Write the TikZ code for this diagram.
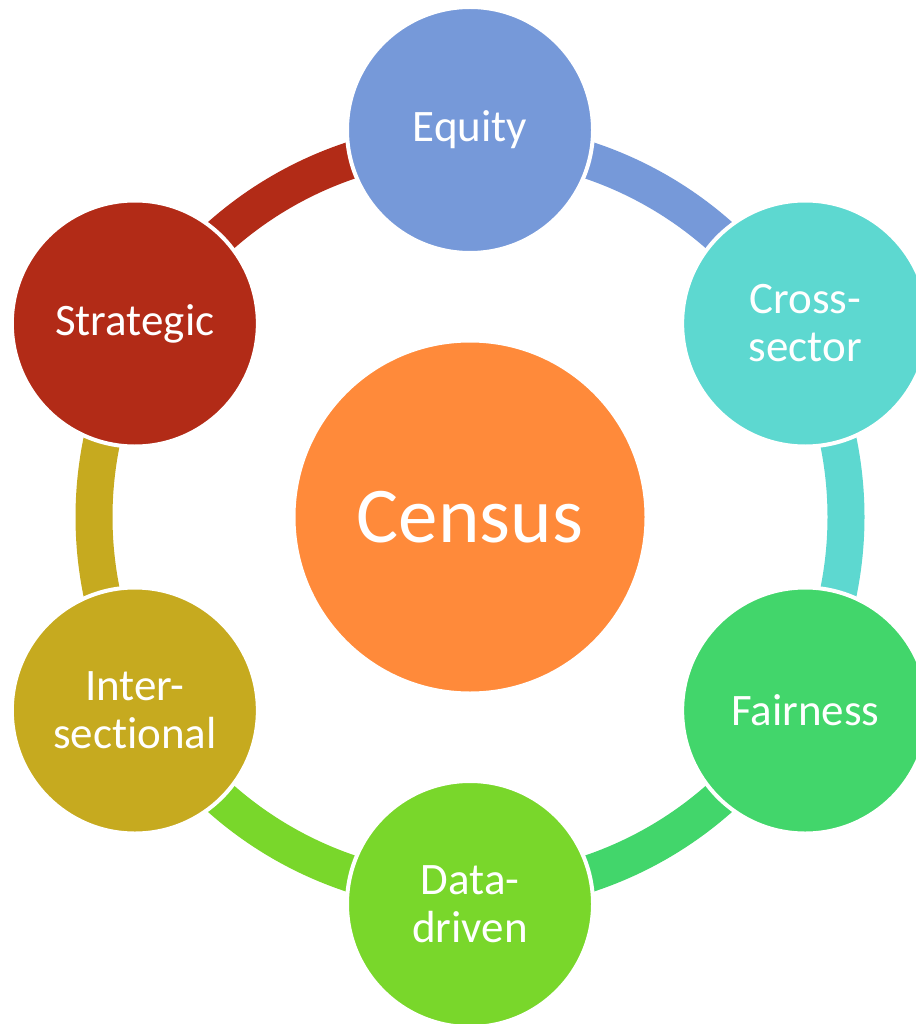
\documentclass[tikz,border=0pt]{standalone}
\usepackage{fontspec}
\setmainfont{Carlito}[Ligatures=NoCommon]
\usetikzlibrary{calc}
\definecolor{cEq}{HTML}{7699D9}
\definecolor{cCs}{HTML}{5DD8D0}
\definecolor{cFa}{HTML}{42D66B}
\definecolor{cDd}{HTML}{79D72B}
\definecolor{cIn}{HTML}{C6AA1F}
\definecolor{cSt}{HTML}{B22B17}
\definecolor{cCe}{HTML}{FF8A3A}
\tikzset{
  outer/.style={circle, fill=#1, draw=white, line width=4pt, minimum size=246pt, inner sep=0pt,
    text=white, align=center, font=\fontsize{45}{48}\selectfont},
  inner/.style={circle, fill=#1, draw=white, line width=4pt, minimum size=353pt, inner sep=0pt,
    text=white, align=center, font=\fontsize{79}{84}\selectfont},
  ring/.style={draw=#1, line width=37pt}
}
\begin{document}
\begin{tikzpicture}[x=1pt,y=1pt]
\useasboundingbox (0,0) rectangle (915,-1024);
\coordinate (C) at (470,-517);
% arcs
\draw[ring=cEq] ($(C)+(90:376)$) arc[start angle=90, end angle=30, radius=376];
\draw[ring=cCs] ($(C)+(30:376)$) arc[start angle=30, end angle=-30, radius=376];
\draw[ring=cFa] ($(C)+(-30:376)$) arc[start angle=-30, end angle=-90, radius=376];
\draw[ring=cDd] ($(C)+(-90:376)$) arc[start angle=-90, end angle=-150, radius=376];
\draw[ring=cIn] ($(C)+(-150:376)$) arc[start angle=-150, end angle=-210, radius=376];
\draw[ring=cSt] ($(C)+(150:376)$) arc[start angle=150, end angle=90, radius=376];
% nodes
\node[outer=cEq] (eq) at ($(C)+(90:387)$) {Equity};
\node[outer=cCs] (cs) at ($(C)+(30:387)$) {Cross-\\sector};
\node[outer=cFa] (fa) at ($(C)+(-30:387)$) {Fairness};
\node[outer=cDd] (dd) at ($(C)+(-90:387)$) {Data-\\driven};
\node[outer=cIn] (in) at ($(C)+(-150:387)$) {Inter-\\sectional};
\node[outer=cSt] (st) at ($(C)+(150:387)$) {Strategic};
\node[inner=cCe] (ce) at (C) {Census};
\end{tikzpicture}
\end{document}
